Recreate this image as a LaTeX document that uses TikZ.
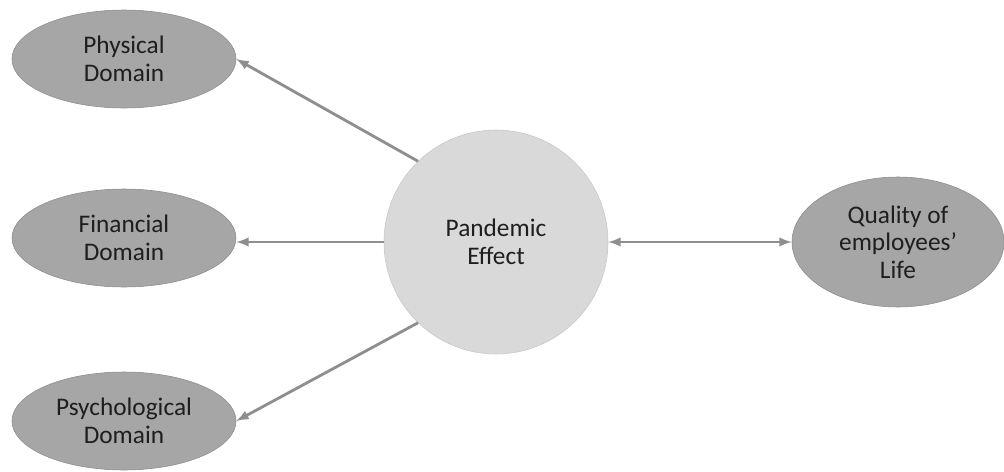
\documentclass[tikz,border=0pt]{standalone}
\usepackage{fontspec}
\setmainfont{Carlito}
\usetikzlibrary{arrows,shapes.geometric}
\tikzset{>=latex}
\definecolor{domfill}{HTML}{A6A6A6}
\definecolor{hubfill}{HTML}{D9D9D9}
\definecolor{linkgray}{HTML}{8E8E8E}
\definecolor{txtgray}{HTML}{1E1E1E}
\begin{document}
\begin{tikzpicture}[->,align=center]
\tikzstyle{dom} = [ellipse,fill=domfill,draw=domfill!85!black,line width=0.4pt,inner sep=0pt,minimum width=5.6cm,minimum height=2.45cm,text=txtgray,font=\fontsize{18}{19.5}\selectfont]
\tikzstyle{hub} = [circle,fill=hubfill,draw=hubfill!92!black,line width=0.4pt,inner sep=0pt,minimum size=5.6cm,text=txtgray,font=\fontsize{18}{19.5}\selectfont]
\tikzstyle{link} = [draw=linkgray,line width=2pt]
\useasboundingbox (0,0) rectangle (25.1,-11.8);
\node[dom] (phys) at (3.1,-1.475) {Physical\\Domain};
\node[dom] (fin) at (3.1,-5.95) {Financial\\Domain};
\node[dom] (psy) at (3.1,-10.525) {Psychological\\Domain};
\node[hub] (pand) at (12.4,-6.05) {Pandemic\\Effect};
\node[dom,minimum width=5.3cm,minimum height=3.25cm] (qual) at (22.45,-6.05) {Quality of\\employees'\\Life};
\draw[link] (pand.134) -- (phys.east);
\draw[link] (pand.west) -- (fin.east |- pand.west);
\draw[link] (pand.226) -- (psy.east);
\draw[link,<->] (pand.east) -- (qual.west);
\end{tikzpicture}
\end{document}
